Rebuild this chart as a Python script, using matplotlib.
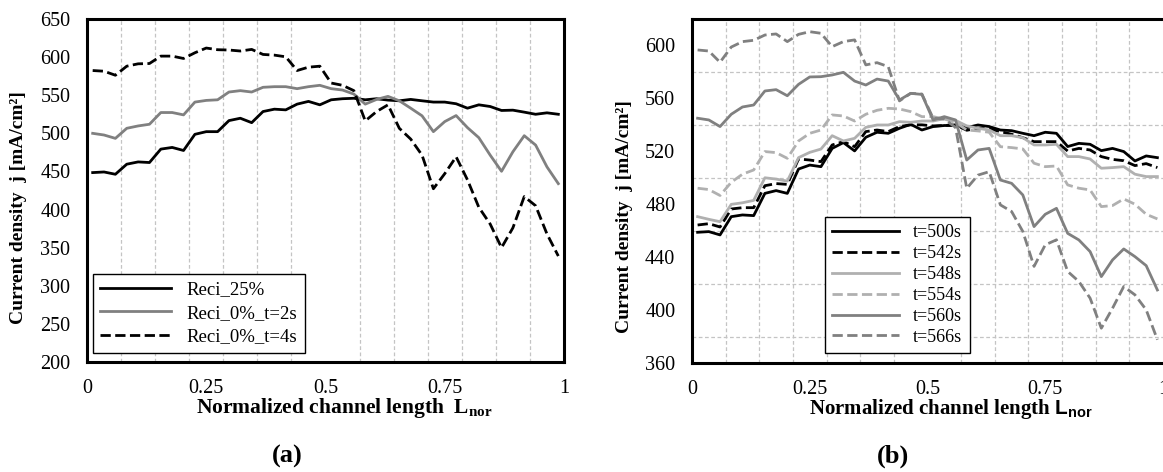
import numpy as np
import matplotlib
matplotlib.use('Agg')
import matplotlib.pyplot as plt
from matplotlib.ticker import MultipleLocator

# fonts
plt.rcParams['font.family'] = 'Liberation Serif'
plt.rcParams['mathtext.fontset'] = 'custom'
plt.rcParams['mathtext.bf'] = 'Liberation Serif:bold'
plt.rcParams['mathtext.sf'] = 'Liberation Sans:bold'

# sample positions along the channel (42 points)
n_pts = 42
L_nor = (np.arange(n_pts) + 0.5) / n_pts

# (a) current density [mA/cm2]
reci_25 = [448.5, 449.3, 446.3, 459.5, 462.5, 461.7, 479.3, 481.5, 477.5, 498.7,
           502.2, 502.2, 516.7, 519.8, 514.0, 528.6, 531.7, 530.8, 538.3, 541.9,
           537.4, 544.0, 545.4, 546.0, 544.0, 545.4, 543.6, 542.7, 544.5, 542.7,
           541.0, 541.0, 538.8, 533.0, 537.4, 535.2, 530.0, 530.4, 527.8, 525.0,
           526.9, 525.0]
reci_0_2s = [500.0, 497.8, 493.4, 506.6, 509.7, 511.9, 527.3, 527.3, 524.2, 541.0,
             543.2, 544.0, 554.2, 556.0, 554.2, 560.4, 561.2, 561.2, 558.6, 561.2,
             563.0, 558.6, 556.8, 551.5, 538.3, 544.5, 548.5, 542.7, 533.0, 523.0,
             502.2, 515.4, 523.3, 507.5, 494.3, 471.4, 450.2, 475.8, 496.9, 484.6,
             456.0, 434.0]
reci_0_4s = [582.4, 581.5, 576.2, 588.1, 591.2, 591.6, 601.3, 601.3, 598.2, 605.7,
             611.9, 609.7, 609.3, 608.0, 610.1, 603.5, 602.6, 600.4, 582.4, 586.8,
             588.1, 566.0, 563.0, 556.0, 516.3, 528.6, 537.4, 506.6, 492.5, 471.4,
             427.3, 447.1, 469.2, 439.0, 403.0, 381.0, 350.0, 376.0, 417.0, 405.0,
             368.0, 339.0]
labels_a = ['Reci_25%', 'Reci_0%_t=2s', 'Reci_0%_t=4s']

# (b) current density [mA/cm2]
t500 = [458.8, 459.3, 456.8, 470.6, 471.9, 471.4, 488.2, 490.3, 488.2, 506.6,
        509.6, 508.4, 522.2, 526.6, 520.3, 530.6, 534.4, 533.6, 537.4, 540.4,
        536.1, 538.7, 539.5, 539.5, 537.9, 539.9, 538.7, 536.1, 535.6, 533.6,
        531.8, 534.4, 533.6, 523.6, 526.0, 525.3, 520.5, 522.2, 519.8, 512.7,
        516.5, 515.2]
t542 = [464.3, 465.3, 462.8, 476.4, 477.4, 477.4, 494.0, 495.6, 495.0, 514.2,
        513.4, 512.2, 524.8, 527.3, 523.5, 534.9, 536.1, 534.9, 538.7, 540.0,
        540.0, 539.2, 539.5, 540.0, 535.9, 537.4, 536.9, 534.9, 532.9, 530.3,
        527.3, 527.3, 527.3, 520.2, 522.2, 521.0, 516.0, 513.9, 512.9, 509.2,
        510.7, 507.7]
t548 = [470.6, 468.6, 466.8, 479.9, 481.1, 482.9, 500.0, 499.0, 497.5, 515.2,
        519.2, 521.7, 531.8, 527.8, 529.8, 538.1, 539.9, 539.9, 542.4, 541.9,
        542.9, 542.9, 544.7, 543.4, 539.2, 537.4, 536.1, 531.8, 531.8, 530.3,
        524.8, 524.8, 525.3, 516.0, 516.0, 514.2, 507.2, 507.7, 508.4, 502.7,
        500.9, 500.9]
t554 = [492.1, 491.1, 486.6, 496.6, 502.7, 505.9, 519.8, 519.0, 514.7, 527.8,
        533.6, 536.1, 547.5, 546.7, 542.9, 548.0, 551.0, 552.5, 552.0, 550.0,
        546.2, 546.2, 544.4, 541.9, 536.1, 535.4, 534.4, 523.5, 522.8, 521.8,
        511.0, 508.4, 508.9, 494.6, 492.1, 490.8, 478.2, 479.0, 484.0, 480.0,
        472.4, 468.9]
t560 = [545.0, 543.7, 538.7, 548.0, 553.5, 555.0, 565.6, 566.6, 562.0, 570.6,
        576.2, 576.4, 577.7, 579.7, 573.1, 570.1, 574.6, 573.1, 558.8, 563.8,
        563.0, 543.7, 546.2, 543.7, 513.4, 521.0, 522.2, 498.3, 495.8, 487.0,
        463.1, 472.4, 476.9, 458.0, 453.0, 444.2, 425.3, 437.9, 446.2, 440.4,
        433.6, 415.2]
t566 = [596.6, 595.8, 587.3, 598.8, 602.9, 603.9, 607.9, 608.7, 602.9, 608.4,
        610.4, 609.2, 599.1, 602.9, 604.2, 585.3, 587.0, 584.0, 558.1, 563.8,
        563.3, 545.0, 544.4, 538.0, 492.0, 502.0, 504.6, 479.5, 474.5, 459.4,
        433.0, 449.3, 453.1, 429.2, 421.6, 409.0, 386.3, 401.4, 417.8, 411.5,
        400.2, 377.6]
labels_b = ['t=500s', 't=542s', 't=548s', 't=554s', 't=560s', 't=566s']

fig = plt.figure(figsize=(11.63, 4.72), dpi=100)
ax1 = fig.add_axes([87 / 1163, 110 / 472, 477 / 1163, 343 / 472])
ax2 = fig.add_axes([692 / 1163, 109 / 472, 471 / 1163, 344 / 472])

tick_fs = 14.5
ylabel_fs = 14
xlabel_fs = 15.5


def style_axes(ax, ymin, ymax, ymajor, ygrid):
    ax.set_xlim(0, 1)
    ax.set_ylim(ymin, ymax)
    ax.xaxis.set_major_locator(MultipleLocator(0.25))
    ax.xaxis.set_minor_locator(MultipleLocator(1 / 14))
    ax.yaxis.set_major_locator(MultipleLocator(ymajor))
    ax.yaxis.set_minor_locator(MultipleLocator(ygrid))
    ax.xaxis.set_major_formatter(plt.FuncFormatter(lambda v, p: ('%g' % v)))
    ax.grid(False)
    ax.grid(which='minor', color='#c4c4c4', linestyle=(0, (3, 2)), linewidth=0.9)
    ax.tick_params(which='both', length=0, labelsize=tick_fs, pad=12)
    for s in ax.spines.values():
        s.set_linewidth(2.2)
        s.set_color('black')
    ax.set_axisbelow(True)


# panel (a)
ax1.plot(L_nor, reci_25, color='black', lw=2.0, label=labels_a[0])
ax1.plot(L_nor, reci_0_2s, color='#808080', lw=2.0, label=labels_a[1])
ax1.plot(L_nor, reci_0_4s, color='black', lw=2.0, ls='--', label=labels_a[2])
style_axes(ax1, 200, 650, 50, 50)
ax1.set_ylabel('Current density  j [mA/cm²]', fontsize=ylabel_fs, fontweight='bold')
ax1.yaxis.set_label_coords(-0.125, 0.449)
ax1.set_xlabel(r'Normalized channel length  $\mathbf{L_{nor}}$', fontsize=xlabel_fs, fontweight='bold')
ax1.xaxis.set_label_coords(0.54, -0.098)
leg1 = ax1.legend(loc='lower left', bbox_to_anchor=(0.012, 0.026), borderaxespad=0,
                  fontsize=13.5, handlelength=3.8, labelspacing=0.35, fancybox=False,
                  framealpha=1, edgecolor='black')
leg1.get_frame().set_linewidth(1.0)

# panel (b)
ax2.plot(L_nor, t500, color='black', lw=2.0, label=labels_b[0])
ax2.plot(L_nor, t542, color='black', lw=2.0, ls='--', label=labels_b[1])
ax2.plot(L_nor, t548, color='#b0b0b0', lw=2.0, label=labels_b[2])
ax2.plot(L_nor, t554, color='#b0b0b0', lw=2.0, ls='--', label=labels_b[3])
ax2.plot(L_nor, t560, color='#808080', lw=2.0, label=labels_b[4])
ax2.plot(L_nor, t566, color='#808080', lw=2.0, ls='--', label=labels_b[5])
style_axes(ax2, 360, 620, 40, 20)
ax2.spines['right'].set_visible(False)
ax2.set_ylabel('Current density  j [mA/cm²]', fontsize=ylabel_fs, fontweight='bold')
ax2.yaxis.set_label_coords(-0.125, 0.427)
ax2.set_xlabel(r'Normalized channel length $\mathsf{L_{nor}}$', fontsize=xlabel_fs - 0.5, fontweight='bold')
ax2.xaxis.set_label_coords(0.55, -0.1)
leg2 = ax2.legend(loc='lower left', bbox_to_anchor=(0.282, 0.029), borderaxespad=0,
                  fontsize=13, handlelength=3.7, labelspacing=0.22, fancybox=False,
                  framealpha=1, edgecolor='black')
leg2.get_frame().set_linewidth(1.0)

fig.text(287 / 1163, 1 - 456 / 472, '(a)', ha='center', va='center', fontsize=19, fontweight='bold')
fig.text(893 / 1163, 1 - 456 / 472, '(b)', ha='center', va='center', fontsize=19, fontweight='bold')

fig.savefig('out.png', dpi=100)
